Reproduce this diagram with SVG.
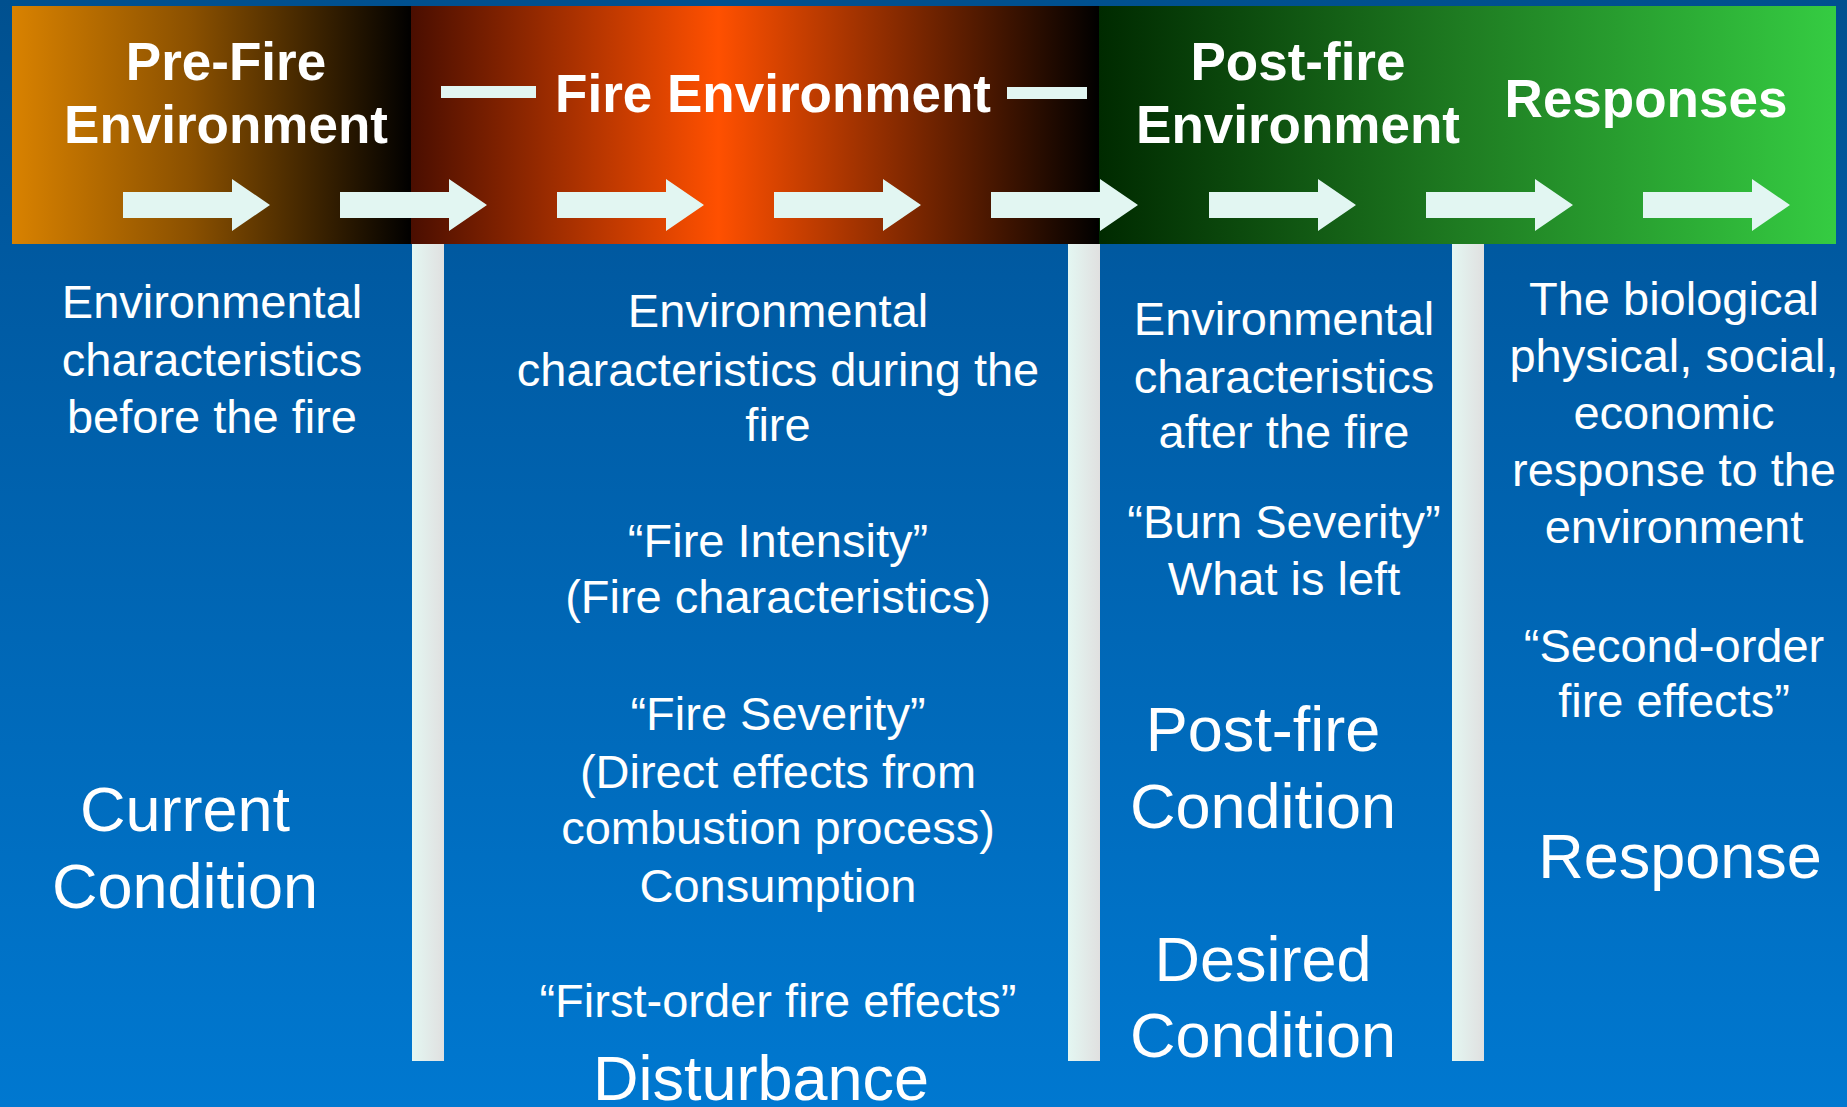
<svg xmlns="http://www.w3.org/2000/svg" width="1847" height="1107" viewBox="0 0 1847 1107">
<defs>
<linearGradient id="bg" x1="0" y1="0" x2="0" y2="1">
<stop offset="0" stop-color="#00508f"/>
<stop offset="0.25" stop-color="#005aa2"/>
<stop offset="1" stop-color="#0078d0"/>
</linearGradient>
<linearGradient id="g1" x1="0" y1="0" x2="1" y2="0">
<stop offset="0" stop-color="#d98200"/>
<stop offset="0.45" stop-color="#8a5000"/>
<stop offset="1" stop-color="#000000"/>
</linearGradient>
<linearGradient id="g2" x1="0" y1="0" x2="1" y2="0">
<stop offset="0" stop-color="#4a0e00"/>
<stop offset="0.446" stop-color="#ff5000"/>
<stop offset="1" stop-color="#000000"/>
</linearGradient>
<linearGradient id="g3" x1="0" y1="0" x2="1" y2="0">
<stop offset="0" stop-color="#002a00"/>
<stop offset="0.5" stop-color="#1f7d22"/>
<stop offset="1" stop-color="#35cc42"/>
</linearGradient>
<linearGradient id="bar" x1="0" y1="0" x2="1" y2="0">
<stop offset="0" stop-color="#e4f7f2"/>
<stop offset="1" stop-color="#e0e0e0"/>
</linearGradient>
<path id="arr" d="M0,13 H109 V0 L147,26 L109,52 V39 H0 Z"/>
</defs>
<style>
.t{font-family:"Liberation Sans",Arial,sans-serif;font-weight:bold;font-size:53px;fill:#ffffff;text-anchor:middle}
.b{font-family:"Liberation Sans",Arial,sans-serif;font-size:47px;fill:#ffffff;text-anchor:middle}
.L{font-family:"Liberation Sans",Arial,sans-serif;font-size:63px;fill:#ffffff;text-anchor:middle}
.a{fill:#e2f6f2}
</style>
<rect x="0" y="0" width="1847" height="1107" fill="url(#bg)"/>
<g id="banner">
<rect x="12" y="6" width="400" height="238" fill="url(#g1)"/>
<rect x="411" y="6" width="689" height="238" fill="url(#g2)"/>
<rect x="1099" y="6" width="737" height="238" fill="url(#g3)"/>
</g>
<g id="separators">
<rect x="412" y="244" width="32" height="817" fill="url(#bar)"/>
<rect x="1068" y="244" width="32" height="817" fill="url(#bar)"/>
<rect x="1452" y="244" width="32" height="817" fill="url(#bar)"/>
</g>
<g id="header-prefire">
<text class="t" x="226" y="80">Pre-Fire</text>
<text class="t" x="226" y="143">Environment</text>
</g>
<g id="header-fire">
<rect x="441" y="86" width="95" height="12" fill="#e2f6f2"/>
<text class="t" x="773" y="112">Fire Environment</text>
<rect x="1007" y="87" width="80" height="12" fill="#e2f6f2"/>
</g>
<g id="header-postfire">
<text class="t" x="1298" y="80">Post-fire</text>
<text class="t" x="1298" y="143">Environment</text>
</g>
<g id="header-responses">
<text class="t" x="1646" y="117">Responses</text>
</g>
<g id="connectors">
<use href="#arr" class="a" x="123" y="179"/>
<use href="#arr" class="a" x="340" y="179"/>
<use href="#arr" class="a" x="557" y="179"/>
<use href="#arr" class="a" x="774" y="179"/>
<use href="#arr" class="a" x="991" y="179"/>
<use href="#arr" class="a" x="1209" y="179"/>
<use href="#arr" class="a" x="1426" y="179"/>
<use href="#arr" class="a" x="1643" y="179"/>
</g>
<g id="col-prefire">
<text class="b" x="212" y="318">Environmental</text>
<text class="b" x="212" y="376">characteristics</text>
<text class="b" x="212" y="433">before the fire</text>
<text class="L" x="185" y="831">Current</text>
<text class="L" x="185" y="908">Condition</text>
</g>
<g id="col-fire">
<text class="b" x="778" y="327">Environmental</text>
<text class="b" x="778" y="386">characteristics during the</text>
<text class="b" x="778" y="441">fire</text>
<text class="b" x="778" y="557">“Fire Intensity”</text>
<text class="b" x="778" y="613">(Fire characteristics)</text>
<text class="b" x="778" y="730">“Fire Severity”</text>
<text class="b" x="778" y="788">(Direct effects from</text>
<text class="b" x="778" y="844">combustion process)</text>
<text class="b" x="778" y="902">Consumption</text>
<text class="b" x="778" y="1017">“First-order fire effects”</text>
<text class="L" x="761" y="1100">Disturbance</text>
</g>
<g id="col-postfire">
<text class="b" x="1284" y="335">Environmental</text>
<text class="b" x="1284" y="393">characteristics</text>
<text class="b" x="1284" y="448">after the fire</text>
<text class="b" x="1284" y="538">“Burn Severity”</text>
<text class="b" x="1284" y="595">What is left</text>
<text class="L" x="1263" y="751">Post-fire</text>
<text class="L" x="1263" y="828">Condition</text>
<text class="L" x="1263" y="981">Desired</text>
<text class="L" x="1263" y="1057">Condition</text>
</g>
<g id="col-responses">
<text class="b" x="1674" y="315">The biological</text>
<text class="b" x="1674" y="372">physical, social,</text>
<text class="b" x="1674" y="429">economic</text>
<text class="b" x="1674" y="486">response to the</text>
<text class="b" x="1674" y="543">environment</text>
<text class="b" x="1674" y="662">“Second-order</text>
<text class="b" x="1674" y="717">fire effects”</text>
<text class="L" x="1680" y="878">Response</text>
</g>
</svg>
